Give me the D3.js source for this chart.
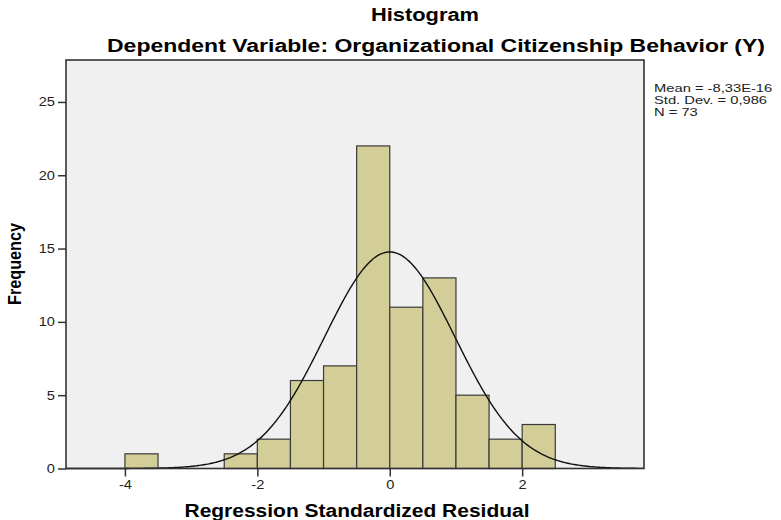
<!DOCTYPE html>
<html>
<head>
<meta charset="utf-8">
<script src="https://cdn.jsdelivr.net/npm/d3@7"></script>
<style>
  body { margin: 0; background: #fff; }
  svg { display: block; font-family: "Liberation Sans", Arial, sans-serif; }
</style>
</head>
<body>
<script>
// bins of width 0.5 (lower edge) and their counts
const binStarts = [-4, -2.5, -2, -1.5, -1, -0.5, 0, 0.5, 1, 1.5, 2]
const counts = [1, 1, 2, 6, 7, 22, 11, 13, 5, 2, 3]
const binWidth = 0.5
const xTicks = [-4, -2, 0, 2]
const yTicks = [0, 5, 10, 15, 20, 25]
const statLines = ["Mean = -8,33E-16", "Std. Dev. = 0,986", "N = 73"]
const mean = -8.33e-16
const sd = 0.986
const n = 73

const width = 781, height = 520
const plotLeft = 66, plotRight = 644, plotTop = 60, plotBottom = 468.5
const stretch = 1.22

const svg = d3.select("body").append("svg")
  .attr("width", width)
  .attr("height", height)

const x = d3.scaleLinear().domain([-4.89, 3.84]).range([plotLeft, plotRight])
const y = d3.scaleLinear().domain([0, 27.86]).range([plotBottom, plotTop])

// plot background
svg.append("rect")
  .attr("x", plotLeft).attr("y", plotTop)
  .attr("width", plotRight - plotLeft).attr("height", plotBottom - plotTop)
  .attr("fill", "#f0f0f0")

// bars
svg.append("g")
  .selectAll("rect")
  .data(binStarts.map((s, i) => ({ s, c: counts[i] })))
  .join("rect")
  .attr("x", d => x(d.s))
  .attr("y", d => y(d.c))
  .attr("width", d => x(d.s + binWidth) - x(d.s))
  .attr("height", d => y(0) - y(d.c))
  .attr("fill", "#d3ce97")
  .attr("stroke", "#3a3a3a")
  .attr("stroke-width", 1.2)

// normal curve
const pdf = v => n * binWidth * Math.exp(-0.5 * ((v - mean) / sd) ** 2) / (sd * Math.sqrt(2 * Math.PI))
const curveX = d3.range(-4.89, 3.84, 0.02)
svg.append("path")
  .datum(curveX)
  .attr("fill", "none")
  .attr("stroke", "#111")
  .attr("stroke-width", 1.4)
  .attr("d", d3.line().x(d => x(d)).y(d => y(pdf(d))))

// frame
svg.append("rect")
  .attr("x", plotLeft).attr("y", plotTop)
  .attr("width", plotRight - plotLeft).attr("height", plotBottom - plotTop)
  .attr("fill", "none")
  .attr("stroke", "#333")
  .attr("stroke-width", 1.6)

const stretchText = (sel, k = stretch) => sel.each(function () {
  const len = this.getComputedTextLength()
  d3.select(this).attr("textLength", len * k).attr("lengthAdjust", "spacingAndGlyphs")
})

// axes
const xAxis = svg.append("g")
  .attr("transform", `translate(0,${plotBottom})`)
  .call(d3.axisBottom(x).tickValues(xTicks).tickSize(8).tickPadding(4).tickFormat(d => String(d)))
xAxis.select(".domain").remove()
xAxis.selectAll("line").attr("stroke", "#333").attr("stroke-width", 1.5)
xAxis.selectAll("text").attr("font-size", 12).attr("fill", "#222")
  .style("font-family", "Liberation Sans, Arial, sans-serif").call(stretchText)

const yAxis = svg.append("g")
  .attr("transform", `translate(${plotLeft},0)`)
  .call(d3.axisLeft(y).tickValues(yTicks).tickSize(8).tickPadding(3))
yAxis.select(".domain").remove()
yAxis.selectAll("line").attr("stroke", "#333").attr("stroke-width", 1.5)
yAxis.selectAll("text").attr("font-size", 12).attr("fill", "#222")
  .style("font-family", "Liberation Sans, Arial, sans-serif").call(stretchText)

// titles
svg.append("text")
  .attr("x", 425).attr("y", 21)
  .attr("text-anchor", "middle")
  .attr("font-size", 18).attr("font-weight", "bold")
  .attr("textLength", 108).attr("lengthAdjust", "spacingAndGlyphs")
  .text("Histogram")

svg.append("text")
  .attr("x", 436).attr("y", 52)
  .attr("text-anchor", "middle")
  .attr("font-size", 18).attr("font-weight", "bold")
  .attr("textLength", 658).attr("lengthAdjust", "spacingAndGlyphs")
  .text("Dependent Variable: Organizational Citizenship Behavior (Y)")

svg.append("text")
  .attr("x", 357).attr("y", 517)
  .attr("text-anchor", "middle")
  .attr("font-size", 18).attr("font-weight", "bold")
  .attr("textLength", 345).attr("lengthAdjust", "spacingAndGlyphs")
  .text("Regression Standardized Residual")

svg.append("text")
  .attr("transform", "translate(21,264) rotate(-90)")
  .attr("text-anchor", "middle")
  .attr("font-size", 18).attr("font-weight", "bold")
  .attr("textLength", 82).attr("lengthAdjust", "spacingAndGlyphs")
  .text("Frequency")

// stats box text
svg.append("g")
  .selectAll("text")
  .data(statLines)
  .join("text")
  .attr("x", 654)
  .attr("y", (d, i) => 92 + i * 12)
  .attr("font-size", 11.5)
  .attr("fill", "#222")
  .text(d => d)
  .call(stretchText, 1.28)
</script>
</body>
</html>
